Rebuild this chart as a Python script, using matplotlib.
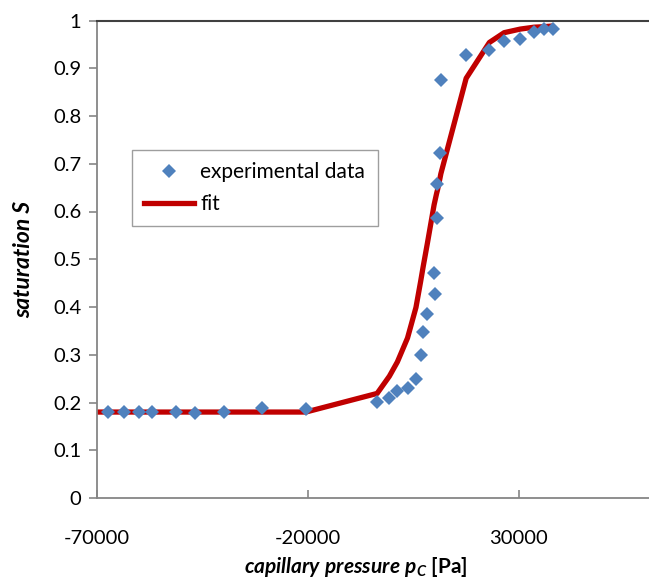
import matplotlib
matplotlib.use("Agg")
from matplotlib import pyplot as plt
from matplotlib.lines import Line2D

# measured saturation vs capillary pressure
exp_p = [-67200, -63600, -60000, -56800, -51100, -46700, -39800, -30900, -20400,
         -3500, -600, 1300, 3700, 5700, 6800, 7400, 8400, 10000, 10100, 10600,
         10800, 11400, 11600, 17600, 23100, 26600, 30400, 33700, 36000, 38100]
exp_S = [0.180, 0.181, 0.180, 0.180, 0.180, 0.177, 0.180, 0.188, 0.186,
         0.202, 0.209, 0.224, 0.230, 0.249, 0.299, 0.347, 0.386, 0.471, 0.427, 0.586,
         0.657, 0.722, 0.875, 0.928, 0.938, 0.957, 0.961, 0.975, 0.982, 0.982]

# fitted curve
fit_p = [-70000, -20400, -3500, -600, 1300, 3700, 5700, 6800, 7400, 8400, 10000,
         10600, 10800, 11400, 11600, 17600, 23100, 26600, 30400, 33700, 36000, 38100]
fit_S = [0.180, 0.180, 0.219, 0.255, 0.285, 0.335, 0.399, 0.453, 0.484, 0.533, 0.614,
         0.638, 0.645, 0.670, 0.679, 0.879, 0.954, 0.9745, 0.982, 0.986, 0.987, 0.9885]

x_ticks = [-70000, -20000, 30000]
y_ticks = [0, 0.1, 0.2, 0.3, 0.4, 0.5, 0.6, 0.7, 0.8, 0.9, 1]

plt.rcParams['font.family'] = ['Lato', 'DejaVu Sans']
plt.rcParams['mathtext.fontset'] = 'custom'
plt.rcParams['mathtext.it'] = 'Lato:bold:italic'
plt.rcParams['mathtext.rm'] = 'Lato:bold'
plt.rcParams['mathtext.bf'] = 'Lato:bold'

BLUE = '#4f81bd'
RED = '#c00000'
GREY = '#868686'

fig = plt.figure(figsize=(6.49, 5.82), dpi=100)
ax = fig.add_axes([96.5 / 649, 84 / 582, 552.5 / 649, 477.5 / 582])

ax.plot(fit_p, fit_S, color=RED, lw=3.8, solid_capstyle='butt', zorder=2)
ax.plot(exp_p, exp_S, ls='none', marker='D', ms=7.5, mew=0, color=BLUE, zorder=3)

ax.set_xlim(-70000, -70000 + 552.5 / 211 * 50000)
ax.set_ylim(0, 1)
ax.set_xticks(x_ticks)
ax.set_xticklabels([str(v) for v in x_ticks])
ax.set_yticks(y_ticks)
ax.set_yticklabels(['0'] + [f'{v:.1f}' for v in y_ticks[1:-1]] + ['1'])

ax.tick_params(axis='x', direction='in', length=6, width=1.2, color=GREY,
               labelsize=14.5, pad=23, labelcolor='black')
ax.tick_params(axis='y', direction='out', length=6, width=1.2, color=GREY,
               labelsize=14.5, pad=5, labelcolor='black')

ax.spines['right'].set_visible(False)
ax.spines['left'].set_color(GREY)
ax.spines['bottom'].set_color(GREY)
ax.spines['left'].set_linewidth(1.3)
ax.spines['bottom'].set_linewidth(1.3)
ax.spines['top'].set_color('#404040')
ax.spines['top'].set_linewidth(1.5)

ax.set_ylabel('saturation S', fontsize=16.5, fontweight='bold', fontstyle='italic')
ax.yaxis.set_label_coords(-62 / 552.5, 0.5)
ax.set_xlabel(r'$capillary\ pressure\ p_C$ [Pa]', fontsize=15, fontweight='bold')
ax.xaxis.set_label_coords((356 - 96.5) / 552.5, -57 / 477.5)

handles = [Line2D([], [], ls='none', marker='D', ms=7.5, mew=0, color=BLUE),
           Line2D([], [], color=RED, lw=3.8)]
leg = ax.legend(handles, ['experimental data', 'fit'], loc='upper left',
                bbox_to_anchor=((131.7 - 96.5) / 552.5, (498 - 150) / 477.5),
                borderaxespad=0, fontsize=15, frameon=True, fancybox=False,
                handlelength=2.4, handletextpad=0.3, labelspacing=0.55,
                borderpad=0.6)
leg.get_frame().set_edgecolor(GREY)
leg.get_frame().set_linewidth(1.0)

fig.savefig('out.png', dpi=100)
